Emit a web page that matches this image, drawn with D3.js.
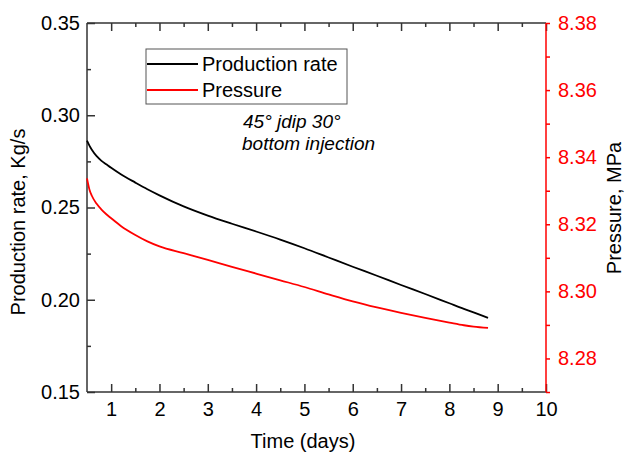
<!DOCTYPE html>
<html>
<head>
<meta charset="utf-8">
<script src="https://cdn.jsdelivr.net/npm/d3@7"></script>
<style>
  body { margin: 0; background: #fff; }
  svg { font-family: "Liberation Sans", Arial, sans-serif; }
</style>
</head>
<body>
<svg width="625" height="453"></svg>
<script>
// data
var time = [0.5, 0.55, 0.6, 0.7, 0.8, 0.9, 1.0, 1.2, 1.5, 1.75, 2, 2.5, 3, 3.5, 4, 4.5, 5, 5.5, 6, 6.5, 7, 7.5, 8, 8.3, 8.5, 8.8];
var rate = [0.2862, 0.2835, 0.2813, 0.2778, 0.2753, 0.2734, 0.2715, 0.2680, 0.2635, 0.2599, 0.2566, 0.2506, 0.2456, 0.2412, 0.2370, 0.2326, 0.2279, 0.2229, 0.2179, 0.2130, 0.2080, 0.2031, 0.1981, 0.1951, 0.1932, 0.1902];
var pressure = [8.3337, 8.3304, 8.3285, 8.3261, 8.3244, 8.3230, 8.3218, 8.3195, 8.3168, 8.3149, 8.3134, 8.3114, 8.3094, 8.3073, 8.3053, 8.3033, 8.3013, 8.2991, 8.2970, 8.2952, 8.2936, 8.2921, 8.2907, 8.2899, 8.2895, 8.2891];
var xTicks = [1, 2, 3, 4, 5, 6, 7, 8, 9, 10];
var rateTicks = [0.15, 0.20, 0.25, 0.30, 0.35];
var pressTicks = [8.28, 8.30, 8.32, 8.34, 8.36, 8.38];

var svg = d3.select("svg");
var plotLeft = 87, plotRight = 546, plotTop = 23, plotBottom = 392;

var x = d3.scaleLinear().domain([0.5, 10]).range([plotLeft, plotRight]);
var yL = d3.scaleLinear().domain([0.15, 0.35]).range([plotBottom, plotTop]);
var yR = d3.scaleLinear().domain([8.27, 8.38]).range([plotBottom, plotTop]);

var axisColor = "#333";
var fontSize = "20px";

// minor ticks halfway between majors
var xMinor = d3.range(1.5, 10, 1);
var lMinor = d3.range(0.175, 0.35, 0.05);
var rMinor = d3.range(8.27, 8.385, 0.02);

function styleAxis(g, color) {
  g.select(".domain").remove();
  g.selectAll(".tick line").attr("stroke", color).attr("stroke-width", 1.5);
  g.selectAll(".tick text").attr("fill", color).style("font-size", fontSize);
}

// bottom axis (ticks point inward)
var gx = svg.append("g").attr("transform", "translate(0," + plotBottom + ")")
  .call(d3.axisBottom(x).tickValues(xTicks).tickFormat(d3.format("d")).tickSizeInner(-8).tickPadding(10));
styleAxis(gx, axisColor);
gx.selectAll(".tick text").attr("fill", "#000");
svg.append("g").attr("transform", "translate(0," + plotBottom + ")")
  .call(d3.axisBottom(x).tickValues(xMinor).tickFormat("").tickSizeInner(-4))
  .call(function(g) { styleAxis(g, axisColor); });

// top axis (ticks inward, no labels)
svg.append("g").attr("transform", "translate(0," + plotTop + ")")
  .call(d3.axisTop(x).tickValues(xTicks).tickFormat("").tickSizeInner(-8))
  .call(function(g) { styleAxis(g, axisColor); });
svg.append("g").attr("transform", "translate(0," + plotTop + ")")
  .call(d3.axisTop(x).tickValues(xMinor).tickFormat("").tickSizeInner(-4))
  .call(function(g) { styleAxis(g, axisColor); });

// left axis
var gl = svg.append("g").attr("transform", "translate(" + plotLeft + ",0)")
  .call(d3.axisLeft(yL).tickValues(rateTicks).tickFormat(d3.format(".2f")).tickSizeInner(-8).tickPadding(7));
styleAxis(gl, axisColor);
gl.selectAll(".tick text").attr("fill", "#000");
svg.append("g").attr("transform", "translate(" + plotLeft + ",0)")
  .call(d3.axisLeft(yL).tickValues(lMinor).tickFormat("").tickSizeInner(-4))
  .call(function(g) { styleAxis(g, axisColor); });

// right axis (red, ticks outward)
var gr = svg.append("g").attr("transform", "translate(" + plotRight + ",0)")
  .call(d3.axisRight(yR).tickValues(pressTicks).tickFormat(d3.format(".2f")).tickSizeInner(4).tickPadding(8));
styleAxis(gr, "red");
svg.append("g").attr("transform", "translate(" + plotRight + ",0)")
  .call(d3.axisRight(yR).tickValues(rMinor).tickFormat("").tickSizeInner(4))
  .call(function(g) { styleAxis(g, "red"); });

// frame lines
svg.append("line").attr("x1", plotLeft).attr("x2", plotRight).attr("y1", plotBottom).attr("y2", plotBottom)
  .attr("stroke", axisColor).attr("stroke-width", 1.5);
svg.append("line").attr("x1", plotLeft).attr("x2", plotRight).attr("y1", plotTop).attr("y2", plotTop)
  .attr("stroke", axisColor).attr("stroke-width", 1.5);
svg.append("line").attr("x1", plotLeft).attr("x2", plotLeft).attr("y1", plotTop).attr("y2", plotBottom)
  .attr("stroke", axisColor).attr("stroke-width", 1.5);
svg.append("line").attr("x1", plotRight).attr("x2", plotRight).attr("y1", plotTop).attr("y2", plotBottom)
  .attr("stroke", "red").attr("stroke-width", 1.5);

// curves
var rateLine = d3.line().x(function(d, i) { return x(time[i]); }).y(function(d) { return yL(d); }).curve(d3.curveMonotoneX);
var pressLine = d3.line().x(function(d, i) { return x(time[i]); }).y(function(d) { return yR(d); }).curve(d3.curveMonotoneX);

svg.append("path").datum(rate).attr("d", rateLine)
  .attr("fill", "none").attr("stroke", "#000").attr("stroke-width", 1.8);
svg.append("path").datum(pressure).attr("d", pressLine)
  .attr("fill", "none").attr("stroke", "red").attr("stroke-width", 1.8);

// axis titles
svg.append("text").attr("x", 303).attr("y", 448).attr("text-anchor", "middle")
  .style("font-size", fontSize).text("Time (days)");
svg.append("text").attr("transform", "translate(25,222) rotate(-90)").attr("text-anchor", "middle")
  .style("font-size", fontSize).text("Production rate, Kg/s");
svg.append("text").attr("transform", "translate(621,208) rotate(-90)").attr("text-anchor", "middle")
  .style("font-size", fontSize).text("Pressure, MPa");

// legend
var legend = svg.append("g");
legend.append("rect").attr("x", 146).attr("y", 49).attr("width", 201).attr("height", 55)
  .attr("fill", "#fff").attr("stroke", "#555").attr("stroke-width", 1);
var legendItems = [{name: "Production rate", color: "#000"}, {name: "Pressure", color: "red"}];
legendItems.forEach(function(item, i) {
  var yy = 64 + i * 26;
  legend.append("line").attr("x1", 147).attr("x2", 198).attr("y1", yy).attr("y2", yy)
    .attr("stroke", item.color).attr("stroke-width", 1.8);
  legend.append("text").attr("x", 202).attr("y", yy + 7).style("font-size", fontSize).text(item.name);
});

// annotation
svg.append("text").attr("x", 243).attr("y", 128).style("font-size", "19px").style("font-style", "italic")
  .text("45° jdip 30°");
svg.append("text").attr("x", 242).attr("y", 150).style("font-size", "19px").style("font-style", "italic")
  .text("bottom injection");
</script>
</body>
</html>
